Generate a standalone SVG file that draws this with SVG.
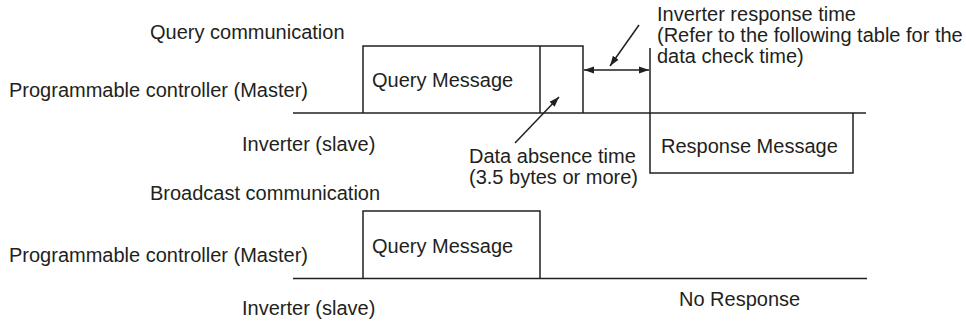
<svg xmlns="http://www.w3.org/2000/svg" width="966" height="322" viewBox="0 0 966 322">
<style>
text{font-family:"Liberation Sans",Arial,sans-serif;font-size:20px;fill:#231f20}
.ln{stroke:#231f20;stroke-width:1.5;fill:none}
</style>
<defs>
<marker id="ah" viewBox="0 0 10 10" refX="10" refY="5" markerWidth="10" markerHeight="10" markerUnits="userSpaceOnUse" orient="auto-start-reverse">
<path d="M0,1.5 L10,5 L0,8.5 Z" fill="#231f20"/>
</marker>
</defs>
<rect width="966" height="322" fill="#fff"/>
<g id="labels">
<text x="150" y="39">Query communication</text>
<text x="9" y="97">Programmable controller (Master)</text>
<text x="242" y="151">Inverter (slave)</text>
<text x="150" y="200">Broadcast communication</text>
<text x="9" y="262">Programmable controller (Master)</text>
<text x="242" y="315">Inverter (slave)</text>
</g>
<g id="query-timeline">
<line class="ln" x1="293" y1="113" x2="866" y2="113"/>
</g>
<g id="query-message">
<polyline class="ln" points="363,113 363,46 583,46 583,113"/>
<line class="ln" x1="540" y1="46" x2="540" y2="113"/>
<text x="372" y="87">Query Message</text>
</g>
<g id="response-message">
<line class="ln" x1="650" y1="48" x2="650" y2="113"/>
<polyline class="ln" points="650,113 650,173 853,173 853,113"/>
<text x="661" y="153">Response Message</text>
</g>
<g id="response-time-note">
<text x="657" y="21">Inverter response time</text>
<text x="657" y="42">(Refer to the following table for the</text>
<text x="657" y="63">data check time)</text>
</g>
<g id="data-absence-note">
<text x="469" y="163">Data absence time</text>
<text x="469" y="184">(3.5 bytes or more)</text>
</g>
<g id="broadcast-timeline">
<line class="ln" x1="293" y1="278.5" x2="867" y2="278.5"/>
</g>
<g id="broadcast-query">
<polyline class="ln" points="363,278.5 363,211 540,211 540,278.5"/>
<text x="372" y="253">Query Message</text>
</g>
<g id="no-response">
<text x="679" y="306">No Response</text>
</g>
<g id="connectors">
<line class="ln" x1="584" y1="70" x2="649" y2="70" marker-start="url(#ah)" marker-end="url(#ah)" stroke-width="1.2"/>
<line class="ln" x1="639" y1="25" x2="610" y2="66" marker-end="url(#ah)" stroke-width="1.2"/>
<line class="ln" x1="515" y1="143" x2="559" y2="97" marker-end="url(#ah)" stroke-width="1.2"/>
</g>
</svg>
